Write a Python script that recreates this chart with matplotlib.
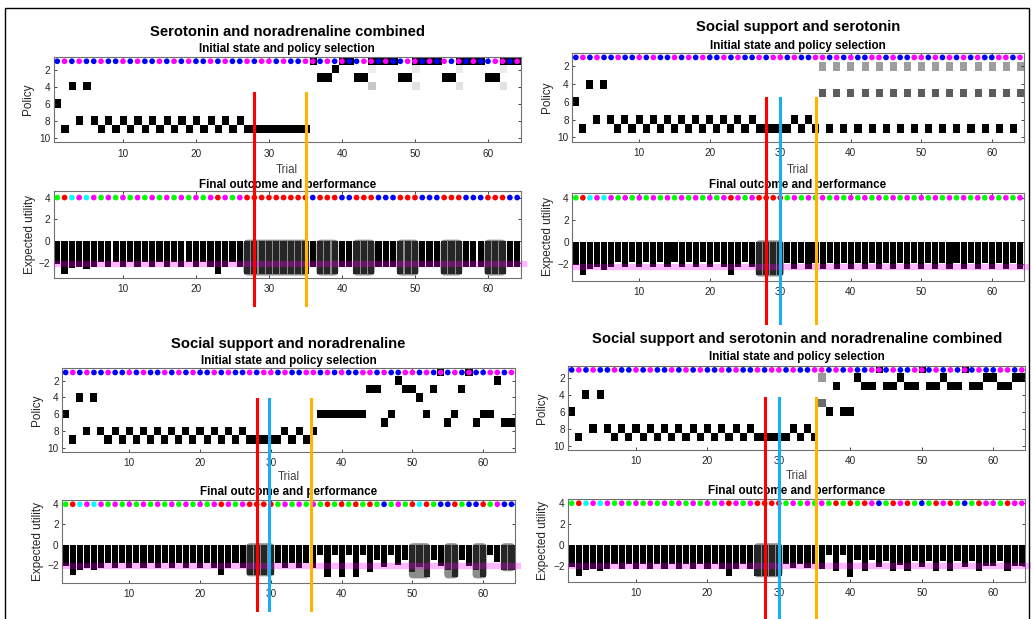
import numpy as np
import matplotlib
matplotlib.use('Agg')
import matplotlib.pyplot as plt
from matplotlib.patches import FancyBboxPatch, Rectangle
from matplotlib.lines import Line2D
from matplotlib import transforms

W, H = 1034, 619
plt.rcParams['font.family'] = ['Liberation Sans', 'DejaVu Sans']

n_trials = 64
trials = np.arange(1, n_trials + 1)

# ---------------------------------------------------------------- data
# initial state of each trial (b = blue, m = magenta), same in all panels
init_state = "bmbmbbmbbmbmbbmbmbmbbmbmbbmbmmbmbbm" + "mbmbmbbmmbmbbmmbmbmbmbmbbmmbm"

# trials 1-26 are identical in every panel
policy_start = [6, 9, 4, 8, 4,
                8, 9, 8, 9, 8, 9, 8, 9, 8, 9, 8, 9, 8, 9, 8, 9, 8, 9, 8, 9, 8]
outcome_start = "grcmcmgmgmgmgmgmgmgmgmrmgm"
utility_start = [-2.1, -3.0, -2.45, -2.3, -2.5, -2.3,
                 -1.85, -2.3, -1.85, -2.3, -1.85, -2.3, -1.85, -2.3,
                 -1.85, -2.3, -1.85, -2.3, -1.85, -2.3, -1.85, -2.3,
                 -3.0, -2.3, -1.85, -2.3]

# panel 1 : serotonin and noradrenaline combined
tl_title = 'Serotonin and noradrenaline combined'
tl_policy = policy_start + [9, 9, 9, 9, 9, 9, 9, 9, 9,
                            1, 3, 3, 2, 1, 1, 3, 3, 1, 1, 1, 1, 3, 3, 1, 1, 1, 1,
                            3, 3, 1, 1, 1, 1, 3, 3, 1, 1, 1]
tl_split = {}
tl_cells = [(44, 2, 0.07), (44, 4, 0.22), (50, 2, 0.08), (50, 4, 0.12),
            (56, 2, 0.08), (56, 4, 0.12), (62, 2, 0.08), (62, 4, 0.12)]
tl_outcome = outcome_start + "rrrrrrrrr" + "brrrbbrrrbbbrrrbbbrrrbbbrrrbb"
tl_utility = utility_start + [-3.0, -3.0, -3.0, -3.0, -3.0, -3.0, -3.0, -3.0, -3.0,
                              -2.3, -3.0, -3.0, -3.0, -2.3, -2.3, -3.0, -3.0, -3.0,
                              -2.3, -2.3, -2.3, -3.0, -3.0, -3.0, -2.3, -2.3, -2.3,
                              -3.0, -3.0, -3.0, -2.3, -2.3, -2.3, -3.0, -3.0, -3.0,
                              -2.3, -2.3]
tl_boxes = [(27, 35), (37, 39), (42, 44), (48, 50), (54, 56), (60, 62)]
tl_events = [28.0, 35.1]
tl_mean = -2.05

# panel 2 : social support and serotonin
tr_title = 'Social support and serotonin'
tr_policy = policy_start + [9, 9, 9, 9, 9, 8, 9, 8, 9,
                            0, 9, 0, 9, 0, 9, 0, 9, 0, 9, 0, 9, 0, 9, 0, 9,
                            0, 9, 0, 9, 0, 9, 0, 9, 0, 9, 0, 9, 0]
tr_split = {2: 0.38, 5: 0.64}
tr_cells = []
tr_outcome = outcome_start + "rrrr" + "gmgmgmgmgmgmgmgmgmgmgmgmgmgmgmgmgm"
tr_utility = utility_start + [-3.0, -3.0, -3.0, -3.0,
                              -1.9, -2.4, -1.9, -2.4, -1.9, -2.4, -1.9, -2.4,
                              -1.9, -2.4, -1.9, -2.4, -1.9, -2.4, -1.9, -2.4,
                              -1.9, -2.4, -1.9, -2.4, -1.9, -2.4, -1.9, -2.4,
                              -1.9, -2.4, -1.9, -2.4, -1.9, -2.4, -1.9, -2.4,
                              -1.9, -2.4]
tr_boxes = [(27, 30)]
tr_events = [28.0, 30.0, 35.0]
tr_mean = -2.25

# panel 3 : social support and noradrenaline
bl_title = 'Social support and noradrenaline'
bl_policy = policy_start + [9, 9, 9, 9, 9, 8, 9, 8, 9, 8,
                            6, 6, 6, 6, 6, 6, 6,
                            3, 3, 7, 6, 2, 3, 3, 4, 6, 3, 1, 7, 6, 3, 1, 7, 6, 6,
                            2, 7, 7]
bl_split = {}
bl_cells = []
bl_outcome = outcome_start + "rrrr" + "gmgmgm" + "grgrgrg" + "rgbgmgrcrgbbrgbbrgmbb"
bl_utility = utility_start + [-3.0, -3.0, -3.0, -3.0,
                              -1.85, -2.3, -1.85, -2.3, -1.85, -2.3,
                              -1.05, -3.2, -1.05, -3.2, -1.05, -3.2, -1.05,
                              -2.65, -1.5, -2.2, -1.05, -2.05, -1.5, -2.65,
                              -2.15, -3.2, -1.5, -2.1, -2.5, -3.2, -1.5, -2.1,
                              -2.5, -3.2, -1.05, -1.7, -2.5, -2.5]
bl_boxes = [(27, 30), (50, 52), (55, 56), (59, 60), (63, 64)]
bl_events = [28.0, 29.7, 35.7]
bl_mean = -2.1

# panel 4 : social support and serotonin and noradrenaline combined
br_title = 'Social support and serotonin and noradrenaline combined'
br_policy = policy_start + [9, 9, 9, 9, 9, 8, 9, 8, 9,
                            0, 6, 3, 6, 6, 2, 3, 3, 1, 3, 3, 2, 3, 3, 1, 3, 3, 2,
                            3, 3, 1, 3, 3, 2, 2, 3, 3, 2, 2]
br_split = {2: 0.4, 5: 0.58}
br_cells = []
br_outcome = outcome_start + "rrrr" + "gmgmgm" + "grgrgrm" + "bgrmrgbgrmrgbgrmmgrmm"
br_utility = utility_start + [-3.0, -3.0, -3.0, -3.0,
                              -1.8, -2.2, -1.8, -2.2, -1.8, -2.3,
                              -1.0, -2.55, -1.0, -3.1, -1.5, -2.55, -1.5, -2.1,
                              -1.6, -2.55, -1.9, -2.55, -1.6, -2.1, -1.6, -2.55,
                              -1.6, -2.55, -1.6, -2.1, -1.6, -2.55, -2.0, -2.0,
                              -1.6, -2.55, -2.0, -2.0]
br_boxes = [(27, 30)]
br_events = [28.0, 30.0, 35.2]
br_mean = -2.05

# ---------------------------------------------------------------- style
colour = {'b': '#0000ff', 'm': '#ff00ff', 'g': '#00ff00', 'r': '#ff0000', 'c': '#00ffff'}
ev_red, ev_cyan, ev_orange = '#ff0000', '#1aaef0', '#ffb400'
txt = '#262626'

# layout in pixels of the reference picture
lay_tl = dict(x=(53.6, 520.8), top=(57, 142.3), bot=(191, 278), ylim=(-3.35, 4.6),
              ty=32, sy=49.3, xy=170, fy=185, lab=(28, 30), v=(93, 305),
              ev_col=[ev_red, ev_orange])
lay_tr = dict(x=(572.3, 1023.5), top=(53, 141.7), bot=(193, 280.7), ylim=(-3.5, 4.43),
              ty=27, sy=46, xy=170, fy=185, lab=(546.7, 548), v=(98, 323),
              ev_col=[ev_red, ev_cyan, ev_orange])
lay_bl = dict(x=(62.1, 515), top=(368.3, 451.7), bot=(500, 582.7), ylim=(-3.75, 4.42),
              ty=344, sy=360.7, xy=477, fy=491.7, lab=(36.7, 38.3), v=(399, 610),
              ev_col=[ev_red, ev_cyan, ev_orange])
lay_br = dict(x=(568.1, 1025.4), top=(365.7, 450), bot=(499.3, 581.7), ylim=(-3.55, 4.38),
              ty=339, sy=356.7, xy=476, fy=490.7, lab=(541.7, 543.3), v=(398, 630),
              ev_col=[ev_red, ev_cyan, ev_orange])


def px_axes(fig, x0, x1, y0, y1):
    return fig.add_axes([x0 / W, 1 - y1 / H, (x1 - x0) / W, (y1 - y0) / H])


def style(ax, yticks):
    ax.set_xlim(0.5, 64.5)
    ax.set_xticks([10, 20, 30, 40, 50, 60])
    ax.set_yticks(yticks)
    ax.tick_params(direction='in', length=2.5, width=0.6, labelsize=7.2,
                   colors=txt, top=True, right=True)
    ax.tick_params(axis='x', pad=4.5)
    ax.tick_params(axis='y', pad=2.5)
    for s in ax.spines.values():
        s.set_color('#707070')
        s.set_linewidth(0.8)


def draw_panel(fig, lay, title, policy, split, cells, init, outcome, utility,
               boxes, events, mean_u):
    x0, x1 = lay['x']
    cx = (x0 + x1) / 2 / W

    # initial state and policy selection
    axt = px_axes(fig, x0, x1, *lay['top'])
    prob = np.zeros((10, n_trials))
    for t, k in enumerate(policy):
        if k > 0:
            prob[k - 1, t] = 1.0
        else:
            for kk, p in split.items():
                prob[kk - 1, t] = p
    for t, k, p in cells:
        prob[k - 1, t - 1] = p
    axt.imshow(1 - prob, cmap='gray', vmin=0, vmax=1, aspect='auto',
               interpolation='nearest', extent=(0.5, 64.5, 10.5, 0.5))
    axt.scatter(trials, np.ones(n_trials), s=17, c=[colour[c] for c in init],
                linewidths=0, zorder=3)
    style(axt, [2, 4, 6, 8, 10])
    axt.set_ylim(10.5, 0.5)
    axt.text((lay['lab'][0] - x0) / (x1 - x0), 0.5, 'Policy', transform=axt.transAxes,
             rotation=90, ha='center', va='center', fontsize=8.5, color=txt)

    # final outcome and performance
    axb = px_axes(fig, x0, x1, *lay['bot'])
    axb.bar(trials, utility, width=0.86, color='k', edgecolor='none', zorder=2)
    px_x = (x1 - x0) / 64.0
    px_y = (lay['bot'][1] - lay['bot'][0]) / (lay['ylim'][1] - lay['ylim'][0])
    for a, b in boxes:
        lo = min(utility[a - 1:b]) - 0.12
        axb.add_patch(FancyBboxPatch((a - 0.5, lo), b - a + 1, 0.15 - lo,
                                     boxstyle='round,pad=0,rounding_size=0.6',
                                     mutation_aspect=px_x / px_y,
                                     facecolor='#404040', edgecolor='none',
                                     alpha=0.6, zorder=2.5))
    axb.plot([0.5, 65.3], [mean_u, mean_u], color='#ff00ff', alpha=0.28, lw=4.5,
             solid_capstyle='butt', clip_on=False, zorder=3)
    axb.scatter(trials, np.full(n_trials, 4.0), s=17, c=[colour[c] for c in outcome],
                linewidths=0, zorder=4, clip_on=False)
    style(axb, [-2, 0, 2, 4])
    axb.set_ylim(*lay['ylim'])
    axb.text((lay['lab'][1] - x0) / (x1 - x0), 0.5, 'Expected utility',
             transform=axb.transAxes, rotation=90, ha='center', va='center',
             fontsize=8.5, color=txt)

    # titles
    fig.text(cx, 1 - lay['ty'] / H, title, ha='center', va='center',
             fontsize=10.6, fontweight='bold', color='k')
    fig.text(cx, 1 - lay['sy'] / H, 'Initial state and policy selection',
             ha='center', va='center', fontsize=8.4, fontweight='bold', color='k')
    fig.text(cx, 1 - lay['xy'] / H, 'Trial', ha='center', va='center',
             fontsize=8.3, color='#404040')
    fig.text(cx, 1 - lay['fy'] / H, 'Final outcome and performance',
             ha='center', va='center', fontsize=8.4, fontweight='bold', color='k')

    # event markers across both plots
    tr = transforms.blended_transform_factory(axt.transData, fig.transFigure)
    for xv, col in zip(events, lay['ev_col']):
        fig.add_artist(Line2D([xv, xv], [1 - lay['v'][1] / H, 1 - lay['v'][0] / H],
                              transform=tr, color=col, lw=2.2, zorder=10))


fig = plt.figure(figsize=(W / 100, H / 100), dpi=100)
fig.patch.set_facecolor('white')

draw_panel(fig, lay_tl, tl_title, tl_policy, tl_split, tl_cells, init_state,
           tl_outcome, tl_utility, tl_boxes, tl_events, tl_mean)
draw_panel(fig, lay_tr, tr_title, tr_policy, tr_split, tr_cells, init_state,
           tr_outcome, tr_utility, tr_boxes, tr_events, tr_mean)
draw_panel(fig, lay_bl, bl_title, bl_policy, bl_split, bl_cells, init_state,
           bl_outcome, bl_utility, bl_boxes, bl_events, bl_mean)
draw_panel(fig, lay_br, br_title, br_policy, br_split, br_cells, init_state,
           br_outcome, br_utility, br_boxes, br_events, br_mean)

# outer frame
fig.add_artist(Rectangle((5 / W, -0.02), 1024 / W, 1.02 - 8 / H, transform=fig.transFigure,
                         fill=False, edgecolor='k', lw=1.0, zorder=20))

fig.savefig('out.png', dpi=100)
